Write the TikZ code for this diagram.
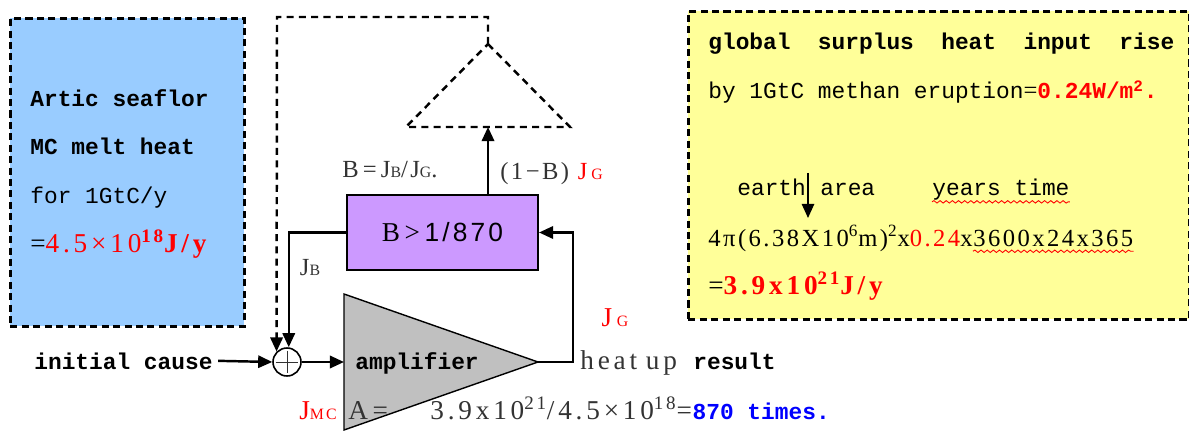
\documentclass[tikz,border=0pt]{standalone}
\usepackage{fontspec}
\setmainfont{Liberation Serif}
\newfontfamily\gothic{Liberation Mono}
\newfontfamily\mincho[LetterSpace=10]{Liberation Serif}
\newfontfamily\minchowide[LetterSpace=14]{Liberation Serif}
\newfontfamily\arialish[LetterSpace=12]{Liberation Sans}
\usetikzlibrary{arrows.meta, positioning, decorations.pathmorphing, calc}
\definecolor{seablue}{HTML}{99CCFF}
\definecolor{lilac}{HTML}{CC99FF}
\definecolor{lemon}{HTML}{FFFF99}
\definecolor{ampgrey}{HTML}{C0C0C0}
\definecolor{darktext}{HTML}{333333}
\newcommand{\gtext}{\gothic\fontsize{13}{15}\selectfont}
\newcommand{\mtext}{\mincho\fontsize{14}{16}\selectfont}
\newcommand{\mtextL}{\minchowide\fontsize{15.5}{18}\selectfont}
\newcommand{\subsm}[1]{{\fontsize{9}{9}\selectfont #1}}
\tikzset{
    infobox/.style={rectangle, draw=black, line width=1.6pt, dash pattern=on 4pt off 2.5pt, anchor=north west},
    blockbox/.style={rectangle, draw=black, fill=lilac, line width=1.2pt, minimum width=3.82cm, minimum height=1.5cm},
    sumnode/.style={circle, draw=black, fill=white, line width=0.9pt, minimum size=0.56cm, inner sep=0pt},
    gothtxt/.style={font=\gtext, inner sep=0pt},
    minctxt/.style={font=\mtext, inner sep=0pt, text=darktext},
    arrow/.style={-{Triangle[length=8pt, width=7pt]}, line width=1.4pt},
    dasharrow/.style={arrow, dash pattern=on 4pt off 3pt},
    wavy/.style={red, line width=0.5pt, decorate, decoration={snake, amplitude=0.7pt, segment length=3.5pt}},
}
\begin{document}
\begin{tikzpicture}[x=0.02cm, y=-0.02cm]
    \useasboundingbox (0,0) rectangle (1189,432);

    % left box: seafloor heat
    \node[infobox, fill=seablue, minimum width=4.68cm, minimum height=6.16cm] (seabox) at (9,17) {};
    \node[gothtxt, anchor=base west, font=\gtext\bfseries] (sea1) at (30,107) {Artic seaflor};
    \node[gothtxt, anchor=base west, font=\gtext\bfseries] (sea2) at (30,155) {MC melt heat};
    \node[gothtxt, anchor=base west] (sea3) at (30,204) {for 1GtC/y};
    \node[minctxt, anchor=base west, font=\mtextL, text=black] (sea4) at (30,252) {=\textcolor{red}{4.5×10\textsuperscript{\bfseries 18}\bfseries J/y}};

    % right box: global heat input
    \node[infobox, fill=lemon, minimum width=10.02cm, minimum height=6.16cm] (earthbox) at (687,10) {};
    \node[gothtxt, anchor=base west, font=\gtext\bfseries] (rise1) at (708,50) {global\ \ surplus\ \ heat\ \ input\ \ rise};
    \node[gothtxt, anchor=base west] (rise2) at (708,99) {by 1GtC methan eruption{\mtext =}\textcolor{red}{\bfseries 0.24W/m\textsuperscript{2}.}};
    \node[gothtxt, anchor=base west] (earth) at (737,195) {earth};
    \node[gothtxt, anchor=base west] (area) at (820,195) {area};
    \node[gothtxt, anchor=base west] (yrs) at (932,195) {years time};
    \node[minctxt, anchor=base west, text=black] (formA) at (708,246) {4π(6.38X10\textsuperscript{6}m)\textsuperscript{2}x\textcolor{red}{0.24}x};
    \node[minctxt, anchor=base west, text=black] (formB) at (formA.base east) {3600x24x365};
    \node[minctxt, anchor=base west, font=\mtextL, text=black] (total) at (708,294) {=\textcolor{red}{\bfseries 3.9x10\textsuperscript{21}J/y}};
    \coordinate (pin) at (808,173);
    \coordinate (pinend) at (808,218);
    \draw[arrow, line width=1pt] (pin) -- (pinend);
    \draw[wavy] ([yshift=-1pt]yrs.south west) -- ([yshift=-1pt]yrs.south east);
    \draw[wavy] ([yshift=-3pt]formB.base west) -- ([yshift=-3pt]formB.base east);

    % feedback block and dashed attenuator
    \node[blockbox] (beta) at (442.5,232.5) {\mtextL B\,>\,{\arialish\fontsize{15}{17}\selectfont 1/870}};
    \coordinate (attapex) at (488,44);
    \coordinate (attleft) at (406,127);
    \coordinate (attright) at (570,127);
    \coordinate (attbase) at (488,127);
    \draw[line width=1.4pt, dash pattern=on 4pt off 3pt] (attapex) -- (attright) -- (attleft) -- cycle;
    \draw[arrow] (beta.north -| attbase) -- (attbase);

    % amplifier
    \coordinate (amptop) at (344,294);
    \coordinate (ampout) at (538,362);
    \coordinate (ampbot) at (344,430);
    \draw[fill=ampgrey, line width=0.8pt] (amptop) -- (ampout) -- (ampbot) -- cycle;
    \node[gothtxt, anchor=base west, font=\gtext\bfseries] (ampname) at (355,369) {amplifier};

    % summing point
    \node[sumnode] (sum) at (287,362) {};
    \draw[line width=0.4pt, darktext] ([yshift=-2pt]sum.north) -- ([yshift=2pt]sum.south);
    \draw[line width=0.4pt, darktext] ([xshift=2pt]sum.west) -- ([xshift=-2pt]sum.east);
    \node[gothtxt, anchor=base west, font=\gtext\bfseries] (cause) at (34,369) {initial cause};

    % connectors
    \coordinate (tapout) at (573,362);
    \coordinate (loopcorner) at (277,17);
    \draw[arrow] ([xshift=3pt]cause.east) -- (sum.west);
    \draw[arrow] (sum.east) -- (sum.east -| amptop);
    \draw[arrow] (ampout) -- (tapout) |- (beta.east);
    \draw[arrow] (beta.west) -| ([xshift=1pt]sum.north);
    \draw[dasharrow] (attapex) -- (attapex |- loopcorner) -- (loopcorner) -- (sum.north west);

    % labels
    \node[minctxt, anchor=base] (ratio) at (390,178) {B\,=\,J\subsm{B}/J\subsm{G}.};
    \node[minctxt, anchor=base west] (leak) at (500,180) {(1−B)\ \textcolor{red}{J\,\subsm{G}}};
    \node[minctxt] (jb) at (310,268) {J\subsm{B}};
    \node[minctxt, font=\mtextL, text=red] (jg) at (615,318) {J\,\subsm{G}};
    \node[minctxt, anchor=base west, font=\mtextL] (heat) at (580,369) {heat\hspace{5pt}up};
    \node[gothtxt, anchor=base west, font=\gtext\bfseries] (result) at (693,369) {result};
    \node[minctxt, anchor=base west, font=\mtextL, text=red] (jmc) at (299,419) {J\subsm{MC}};
    \node[minctxt, anchor=base west, font=\mtextL] (gain) at (348,419) {A\,=};
    \node[minctxt, anchor=base west, font=\mtextL] (gainval) at (430,419) {3.9x10\textsuperscript{21}/4.5×10\textsuperscript{18}=};
    \node[gothtxt, anchor=base west, font=\gtext\bfseries, text=blue] (times) at (gainval.base east) {870 times.};
\end{tikzpicture}
\end{document}
